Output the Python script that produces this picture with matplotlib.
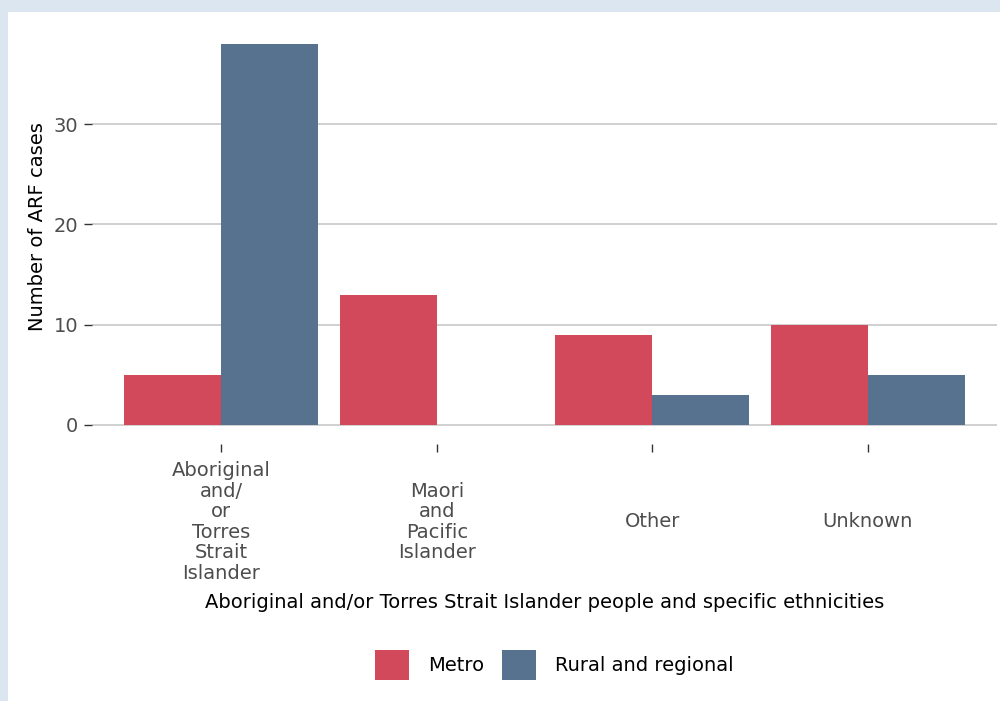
import matplotlib.pyplot as plt
import numpy as np
from matplotlib.patches import Rectangle, Patch

categories = ["Aboriginal\nand/\nor\nTorres\nStrait\nIslander",
              "Maori\nand\nPacific\nIslander",
              "Other",
              "Unknown"]
metro = [5, 13, 9, 10]
rural = [38, 0, 3, 5]
series_names = ["Metro", "Rural and regional"]
colors = ["#d1495b", "#56728f"]
yticks = [0, 10, 20, 30]

plt.rcParams['font.family'] = ['DejaVu Sans']
fs = 14

fig = plt.figure(figsize=(10, 7.01), dpi=100)
fig.patch.set_facecolor('#dce6f1')
fig.patches.append(Rectangle((0.008, 0), 0.992, 1 - 12 / 701, transform=fig.transFigure,
                             facecolor='white', edgecolor='none', zorder=-10))

ax = fig.add_axes([0.092, 1 - 444 / 701, 0.905, 419 / 701])
ax.set_facecolor('none')

x = np.arange(len(categories))
w = 0.45
ax.bar(x - w / 2, metro, width=w, color=colors[0], zorder=3)
ax.bar(x + w / 2, rural, width=w, color=colors[1], zorder=3)

ax.set_xlim(-0.6, len(categories) - 1 + 0.6)
ax.set_ylim(-1.9, 39.9)
ax.set_yticks(yticks)
ax.grid(axis='y', color='#c8c8c8', linewidth=1.2, zorder=0)
for s in ax.spines.values():
    s.set_visible(False)

ax.set_xticks(x)
ax.set_xticklabels(categories, fontsize=fs, color='#4d4d4d', linespacing=1.1,
                   va='center', ha='center')
ax.tick_params(axis='x', length=6, width=1, color='#333333', pad=50)
ax.tick_params(axis='y', length=6, width=1, color='#333333', pad=4,
               labelsize=fs, labelcolor='#4d4d4d')

ax.set_xlabel("Aboriginal and/or Torres Strait Islander people and specific ethnicities",
              fontsize=fs, color='black')
ax.xaxis.set_label_coords(0.5, -0.355)
ax.set_ylabel("Number of ARF cases", fontsize=fs, color='black')
ax.yaxis.set_label_coords(-0.05, 0.52)

handles = [Patch(facecolor=c, edgecolor='none') for c in colors]
fig.legend(handles, series_names, loc='center', bbox_to_anchor=(0.554, 1 - 665 / 701),
           ncol=2, frameon=False, fontsize=fs, handlelength=1.78, handleheight=1.93,
           handletextpad=0.95, columnspacing=0.9)

fig.savefig("out.png", dpi=100, facecolor=fig.get_facecolor())
